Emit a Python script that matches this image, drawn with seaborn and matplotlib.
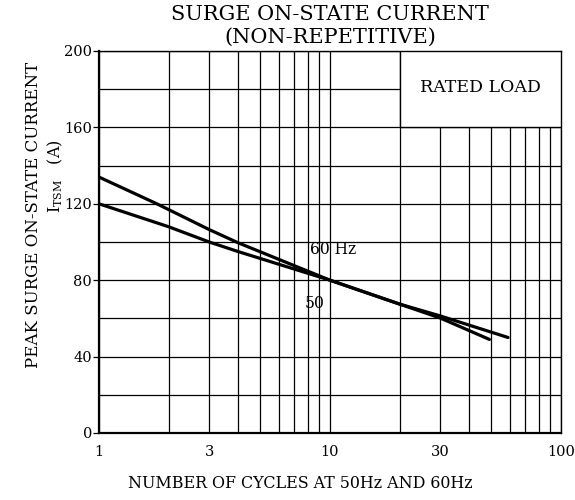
import pandas as pd
import seaborn as sns
import matplotlib.pyplot as plt
from matplotlib.patches import Rectangle
from matplotlib.ticker import FixedLocator, MultipleLocator, NullFormatter

# curve values
cycles_a = [1, 1.78, 3, 4, 10, 20, 30, 49]
current_a = [134, 120, 106.5, 99.6, 80, 67.5, 60.2, 49]
cycles_b = [1, 2, 3, 4, 10, 20, 30, 59]
current_b = [120, 108, 100, 95, 80, 67.5, 61.3, 50]

x_ticks = [1, 3, 10, 30, 100]
x_minor = [2, 4, 5, 6, 7, 8, 9, 20, 40, 50, 60, 70, 80, 90]
y_ticks = [0, 40, 80, 120, 160, 200]

df = pd.concat([
    pd.DataFrame({"cycles": cycles_a, "current": current_a, "freq": "50"}),
    pd.DataFrame({"cycles": cycles_b, "current": current_b, "freq": "60 Hz"}),
])

sns.set_style("white")
plt.rcParams["font.family"] = ["DejaVu Serif"]
plt.rcParams["text.color"] = "black"
plt.rcParams["xtick.color"] = "black"
plt.rcParams["ytick.color"] = "black"

fig = plt.figure(figsize=(5.75, 5), dpi=100)
ax = fig.add_axes([99 / 575, 1 - 433 / 500, 462 / 575, 382 / 500])

sns.lineplot(data=df, x="cycles", y="current", units="freq", estimator=None,
             color="black", lw=2.3, ax=ax, zorder=5, sort=False)

ax.set_xscale("log")
ax.set_xlim(1, 100)
ax.set_ylim(0, 200)
ax.xaxis.set_major_locator(FixedLocator(x_ticks))
ax.xaxis.set_minor_locator(FixedLocator(x_minor))
ax.xaxis.set_minor_formatter(NullFormatter())
ax.set_xticks(x_ticks)
ax.set_xticklabels([str(t) for t in x_ticks])
ax.yaxis.set_major_locator(FixedLocator(y_ticks))
ax.yaxis.set_minor_locator(MultipleLocator(20))
ax.grid(which="both", color="black", lw=0.9)
ax.set_axisbelow(True)
ax.tick_params(axis="y", which="major", left=True, length=4, width=0.9,
               direction="out", labelsize=10.5, pad=1)
ax.tick_params(axis="x", which="major", bottom=False, labelsize=10.5, pad=5)
ax.tick_params(which="minor", length=0)
for s in ax.spines.values():
    s.set_color("black")
    s.set_linewidth(1.0)
ax.spines["left"].set_linewidth(1.6)
ax.spines["bottom"].set_linewidth(1.6)
ax.set_xlabel("")
ax.set_ylabel("")

# rated load box covers the grid in the top right
ax.add_patch(Rectangle((20, 160), 80, 40, facecolor="white", edgecolor="black",
                       lw=1.0, zorder=3))
ax.text(44.7, 181, "RATED LOAD", ha="center", va="center", fontsize=12.5, zorder=4)

ax.text(8.2, 96, "60 Hz", ha="left", va="center", fontsize=11.2, zorder=6)
ax.text(8.6, 68, "50", ha="center", va="center", fontsize=11.2, zorder=6)

fig.text(330 / 575, 1 - 15 / 500, "SURGE ON-STATE CURRENT", ha="center",
         va="center", fontsize=15)
fig.text(330 / 575, 1 - 37 / 500, "(NON-REPETITIVE)", ha="center",
         va="center", fontsize=15)
fig.text(300 / 575, 1 - 483 / 500, "NUMBER OF CYCLES AT 50Hz AND 60Hz",
         ha="center", va="center", fontsize=11.4)
fig.text(34 / 575, 1 - 215 / 500, "PEAK SURGE ON-STATE CURRENT",
         rotation=90, ha="center", va="center", fontsize=12)
fig.text(55 / 575, 1 - 176 / 500, r"I$_{\mathregular{TSM}}$   (A)",
         rotation=90, ha="center", va="center", fontsize=11.5)

fig.savefig("out.png", dpi=100)
